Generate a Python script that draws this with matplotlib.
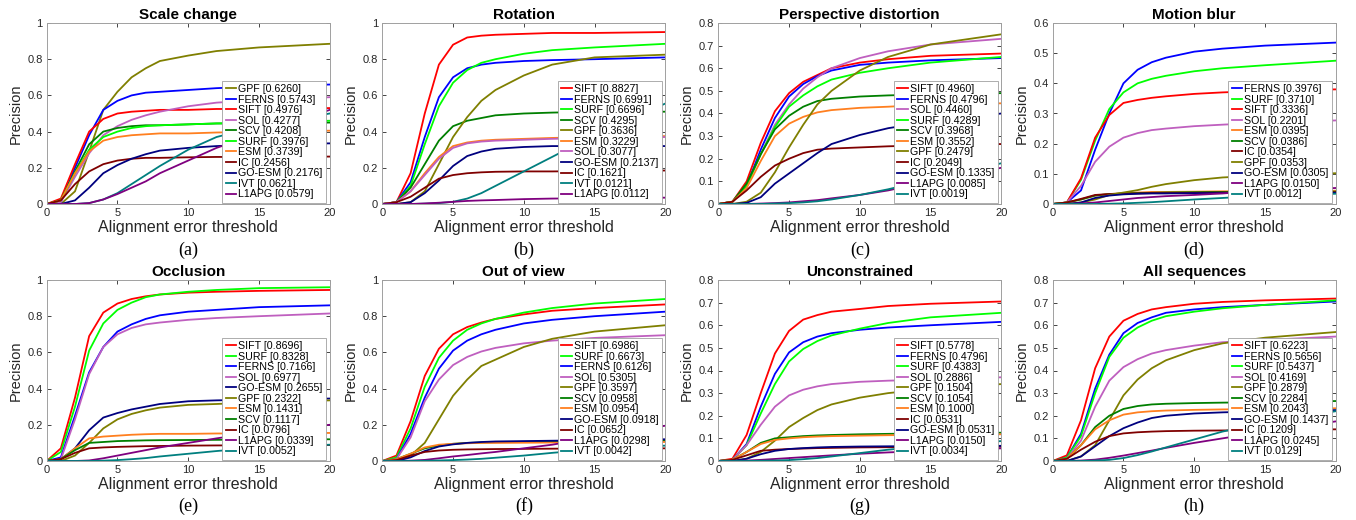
import numpy as np
import matplotlib
matplotlib.use("Agg")
import matplotlib.pyplot as plt
from matplotlib.ticker import FormatStrFormatter

plt.rcParams['font.family'] = ['Liberation Sans', 'DejaVu Sans']

# alignment error thresholds where precision was read
thresholds = [0, 1, 2, 3, 4, 5, 6, 7, 8, 10, 12, 15, 20]

colors = {
    "SIFT": "#ff0000", "FERNS": "#0000ff", "SURF": "#00ff00", "SOL": "#bf5fbf",
    "SCV": "#007f00", "ESM": "#ff7f1f", "GPF": "#7f7f00", "IC": "#7f0000",
    "GO-ESM": "#00007f", "IVT": "#007f7f", "L1APG": "#7f007f",
}

# method -> (score in legend, precision at each threshold); legend order
scale_change = {
    "GPF":    (0.6260, [0, 0.00, 0.07, 0.29, 0.52, 0.62, 0.70, 0.75, 0.79, 0.82, 0.845, 0.865, 0.885]),
    "FERNS":  (0.5743, [0, 0.01, 0.20, 0.38, 0.52, 0.57, 0.60, 0.615, 0.62, 0.63, 0.64, 0.65, 0.66]),
    "SIFT":   (0.4976, [0, 0.03, 0.22, 0.40, 0.47, 0.50, 0.51, 0.515, 0.52, 0.52, 0.525, 0.525, 0.53]),
    "SOL":    (0.4277, [0, 0.01, 0.15, 0.28, 0.38, 0.43, 0.465, 0.49, 0.51, 0.54, 0.56, 0.575, 0.59]),
    "SCV":    (0.4208, [0, 0.02, 0.18, 0.33, 0.40, 0.42, 0.43, 0.435, 0.435, 0.44, 0.445, 0.445, 0.45]),
    "SURF":   (0.3976, [0, 0.02, 0.17, 0.30, 0.37, 0.40, 0.42, 0.43, 0.435, 0.44, 0.445, 0.45, 0.46]),
    "ESM":    (0.3739, [0, 0.02, 0.17, 0.29, 0.35, 0.37, 0.38, 0.385, 0.39, 0.39, 0.395, 0.40, 0.405]),
    "IC":     (0.2456, [0, 0.02, 0.11, 0.18, 0.22, 0.24, 0.25, 0.255, 0.255, 0.258, 0.26, 0.26, 0.262]),
    "GO-ESM": (0.2176, [0, 0.00, 0.02, 0.09, 0.17, 0.215, 0.25, 0.275, 0.295, 0.31, 0.32, 0.33, 0.335]),
    "IVT":    (0.0621, [0, 0.00, 0.00, 0.005, 0.025, 0.06, 0.11, 0.16, 0.21, 0.30, 0.37, 0.43, 0.50]),
    "L1APG":  (0.0579, [0, 0.00, 0.00, 0.005, 0.025, 0.055, 0.09, 0.125, 0.17, 0.24, 0.31, 0.39, 0.52]),
}

rotation = {
    "SIFT":   (0.8827, [0, 0.01, 0.17, 0.50, 0.77, 0.88, 0.92, 0.93, 0.935, 0.94, 0.945, 0.945, 0.95]),
    "FERNS":  (0.6991, [0, 0.01, 0.12, 0.37, 0.59, 0.70, 0.75, 0.77, 0.78, 0.79, 0.795, 0.80, 0.81]),
    "SURF":   (0.6696, [0, 0.01, 0.10, 0.33, 0.54, 0.67, 0.74, 0.78, 0.80, 0.83, 0.85, 0.865, 0.885]),
    "SCV":    (0.4295, [0, 0.01, 0.09, 0.22, 0.35, 0.43, 0.46, 0.475, 0.49, 0.50, 0.505, 0.51, 0.51]),
    "GPF":    (0.3636, [0, 0.00, 0.01, 0.07, 0.22, 0.37, 0.48, 0.57, 0.63, 0.71, 0.77, 0.81, 0.825]),
    "ESM":    (0.3229, [0, 0.01, 0.07, 0.17, 0.26, 0.32, 0.34, 0.35, 0.355, 0.36, 0.365, 0.37, 0.375]),
    "SOL":    (0.3077, [0, 0.01, 0.07, 0.16, 0.25, 0.31, 0.335, 0.345, 0.35, 0.355, 0.36, 0.365, 0.37]),
    "GO-ESM": (0.2137, [0, 0.00, 0.01, 0.06, 0.13, 0.21, 0.265, 0.29, 0.305, 0.315, 0.32, 0.32, 0.32]),
    "IC":     (0.1621, [0, 0.01, 0.04, 0.09, 0.14, 0.16, 0.17, 0.175, 0.178, 0.18, 0.18, 0.182, 0.185]),
    "IVT":    (0.0121, [0, 0.00, 0.00, 0.002, 0.005, 0.012, 0.03, 0.06, 0.10, 0.18, 0.26, 0.38, 0.555]),
    "L1APG":  (0.0112, [0, 0.00, 0.00, 0.003, 0.007, 0.012, 0.017, 0.02, 0.022, 0.027, 0.03, 0.032, 0.035]),
}

perspective = {
    "SIFT":   (0.4960, [0, 0.01, 0.10, 0.27, 0.41, 0.49, 0.54, 0.57, 0.60, 0.625, 0.64, 0.655, 0.665]),
    "FERNS":  (0.4796, [0, 0.01, 0.08, 0.24, 0.38, 0.475, 0.53, 0.565, 0.59, 0.615, 0.625, 0.635, 0.645]),
    "SOL":    (0.4460, [0, 0.01, 0.08, 0.22, 0.35, 0.44, 0.51, 0.56, 0.60, 0.645, 0.675, 0.705, 0.73]),
    "SURF":   (0.4289, [0, 0.01, 0.08, 0.22, 0.34, 0.43, 0.48, 0.52, 0.55, 0.58, 0.60, 0.625, 0.65]),
    "SCV":    (0.3968, [0, 0.01, 0.09, 0.22, 0.33, 0.39, 0.43, 0.455, 0.465, 0.475, 0.48, 0.485, 0.49]),
    "ESM":    (0.3552, [0, 0.01, 0.07, 0.19, 0.30, 0.355, 0.385, 0.405, 0.415, 0.425, 0.43, 0.44, 0.445]),
    "GPF":    (0.2479, [0, 0.00, 0.01, 0.05, 0.14, 0.25, 0.35, 0.44, 0.50, 0.59, 0.65, 0.705, 0.75]),
    "IC":     (0.2049, [0, 0.01, 0.06, 0.12, 0.17, 0.20, 0.225, 0.24, 0.245, 0.25, 0.255, 0.26, 0.265]),
    "GO-ESM": (0.1335, [0, 0.00, 0.005, 0.03, 0.09, 0.135, 0.18, 0.225, 0.265, 0.305, 0.335, 0.365, 0.40]),
    "L1APG":  (0.0085, [0, 0.00, 0.00, 0.002, 0.004, 0.007, 0.012, 0.017, 0.025, 0.04, 0.06, 0.10, 0.16]),
    "IVT":    (0.0019, [0, 0.00, 0.00, 0.00, 0.002, 0.004, 0.007, 0.012, 0.02, 0.04, 0.065, 0.11, 0.18]),
}

motion_blur = {
    "FERNS":  (0.3976, [0, 0.005, 0.045, 0.18, 0.30, 0.40, 0.445, 0.47, 0.485, 0.505, 0.515, 0.525, 0.535]),
    "SURF":   (0.3710, [0, 0.005, 0.08, 0.21, 0.315, 0.37, 0.40, 0.415, 0.425, 0.44, 0.45, 0.46, 0.475]),
    "SIFT":   (0.3336, [0, 0.005, 0.085, 0.22, 0.295, 0.335, 0.345, 0.352, 0.357, 0.365, 0.37, 0.375, 0.38]),
    "SOL":    (0.2201, [0, 0.005, 0.06, 0.14, 0.19, 0.22, 0.235, 0.245, 0.25, 0.258, 0.263, 0.27, 0.277]),
    "ESM":    (0.0395, [0, 0.005, 0.015, 0.028, 0.033, 0.036, 0.038, 0.04, 0.04, 0.041, 0.042, 0.043, 0.044]),
    "SCV":    (0.0386, [0, 0.005, 0.015, 0.028, 0.033, 0.035, 0.036, 0.037, 0.038, 0.039, 0.04, 0.04, 0.041]),
    "IC":     (0.0354, [0, 0.005, 0.017, 0.03, 0.033, 0.034, 0.035, 0.036, 0.036, 0.037, 0.038, 0.038, 0.039]),
    "GPF":    (0.0353, [0, 0.00, 0.005, 0.015, 0.03, 0.038, 0.046, 0.057, 0.066, 0.079, 0.088, 0.095, 0.102]),
    "GO-ESM": (0.0305, [0, 0.00, 0.005, 0.02, 0.028, 0.032, 0.034, 0.035, 0.035, 0.036, 0.036, 0.037, 0.037]),
    "L1APG":  (0.0150, [0, 0.00, 0.002, 0.005, 0.01, 0.015, 0.02, 0.023, 0.026, 0.03, 0.035, 0.045, 0.053]),
    "IVT":    (0.0012, [0, 0.00, 0.00, 0.00, 0.001, 0.002, 0.004, 0.006, 0.009, 0.015, 0.02, 0.028, 0.034]),
}

occlusion = {
    "SIFT":   (0.8696, [0, 0.07, 0.35, 0.69, 0.82, 0.87, 0.895, 0.91, 0.92, 0.93, 0.935, 0.94, 0.945]),
    "SURF":   (0.8328, [0, 0.05, 0.30, 0.61, 0.76, 0.835, 0.875, 0.905, 0.92, 0.935, 0.945, 0.955, 0.96]),
    "FERNS":  (0.7166, [0, 0.02, 0.25, 0.49, 0.63, 0.715, 0.755, 0.785, 0.805, 0.825, 0.835, 0.85, 0.86]),
    "SOL":    (0.6977, [0, 0.01, 0.23, 0.48, 0.63, 0.70, 0.735, 0.755, 0.765, 0.78, 0.79, 0.80, 0.815]),
    "GO-ESM": (0.2655, [0, 0.01, 0.07, 0.17, 0.24, 0.265, 0.285, 0.30, 0.315, 0.33, 0.335, 0.34, 0.345]),
    "GPF":    (0.2322, [0, 0.00, 0.03, 0.10, 0.18, 0.23, 0.26, 0.28, 0.295, 0.31, 0.315, 0.325, 0.335]),
    "ESM":    (0.1431, [0, 0.01, 0.07, 0.125, 0.135, 0.14, 0.145, 0.148, 0.15, 0.15, 0.152, 0.153, 0.155]),
    "SCV":    (0.1117, [0, 0.01, 0.06, 0.10, 0.105, 0.11, 0.112, 0.114, 0.115, 0.116, 0.117, 0.118, 0.12]),
    "IC":     (0.0796, [0, 0.01, 0.045, 0.07, 0.075, 0.078, 0.08, 0.082, 0.083, 0.085, 0.086, 0.087, 0.088]),
    "L1APG":  (0.0339, [0, 0.00, 0.00, 0.003, 0.015, 0.03, 0.045, 0.06, 0.075, 0.10, 0.125, 0.16, 0.20]),
    "IVT":    (0.0052, [0, 0.00, 0.00, 0.00, 0.002, 0.005, 0.01, 0.016, 0.025, 0.04, 0.055, 0.075, 0.09]),
}

out_of_view = {
    "SIFT":   (0.6986, [0, 0.03, 0.22, 0.47, 0.62, 0.70, 0.74, 0.765, 0.785, 0.81, 0.83, 0.845, 0.865]),
    "SURF":   (0.6673, [0, 0.02, 0.18, 0.41, 0.57, 0.665, 0.725, 0.76, 0.785, 0.82, 0.845, 0.87, 0.895]),
    "FERNS":  (0.6126, [0, 0.01, 0.15, 0.35, 0.51, 0.61, 0.665, 0.70, 0.725, 0.76, 0.78, 0.80, 0.825]),
    "SOL":    (0.5305, [0, 0.01, 0.13, 0.33, 0.45, 0.53, 0.575, 0.605, 0.625, 0.65, 0.665, 0.68, 0.695]),
    "GPF":    (0.3597, [0, 0.00, 0.03, 0.10, 0.23, 0.36, 0.45, 0.525, 0.56, 0.63, 0.675, 0.715, 0.75]),
    "SCV":    (0.0958, [0, 0.01, 0.04, 0.07, 0.085, 0.095, 0.10, 0.102, 0.104, 0.106, 0.108, 0.11, 0.112]),
    "ESM":    (0.0954, [0, 0.01, 0.04, 0.075, 0.09, 0.095, 0.098, 0.10, 0.10, 0.101, 0.102, 0.103, 0.105]),
    "GO-ESM": (0.0918, [0, 0.00, 0.02, 0.055, 0.08, 0.092, 0.10, 0.105, 0.108, 0.11, 0.112, 0.115, 0.12]),
    "IC":     (0.0652, [0, 0.005, 0.03, 0.05, 0.058, 0.062, 0.064, 0.065, 0.066, 0.067, 0.068, 0.069, 0.07]),
    "L1APG":  (0.0298, [0, 0.00, 0.002, 0.006, 0.015, 0.025, 0.033, 0.042, 0.05, 0.07, 0.09, 0.13, 0.195]),
    "IVT":    (0.0042, [0, 0.00, 0.00, 0.001, 0.003, 0.005, 0.008, 0.012, 0.018, 0.03, 0.045, 0.065, 0.085]),
}

unconstrained = {
    "SIFT":   (0.5778, [0, 0.01, 0.115, 0.30, 0.475, 0.575, 0.625, 0.645, 0.66, 0.672, 0.685, 0.695, 0.705]),
    "FERNS":  (0.4796, [0, 0.005, 0.075, 0.24, 0.385, 0.48, 0.525, 0.55, 0.565, 0.58, 0.59, 0.60, 0.615]),
    "SURF":   (0.4383, [0, 0.005, 0.07, 0.21, 0.34, 0.44, 0.495, 0.53, 0.555, 0.585, 0.61, 0.635, 0.655]),
    "SOL":    (0.2886, [0, 0.005, 0.07, 0.16, 0.24, 0.29, 0.315, 0.33, 0.34, 0.35, 0.355, 0.36, 0.37]),
    "GPF":    (0.1504, [0, 0.00, 0.01, 0.04, 0.09, 0.15, 0.19, 0.225, 0.25, 0.28, 0.30, 0.32, 0.34]),
    "SCV":    (0.1054, [0, 0.005, 0.04, 0.08, 0.10, 0.105, 0.11, 0.113, 0.115, 0.118, 0.12, 0.122, 0.125]),
    "ESM":    (0.1000, [0, 0.005, 0.04, 0.075, 0.093, 0.10, 0.105, 0.108, 0.11, 0.112, 0.114, 0.116, 0.118]),
    "IC":     (0.0531, [0, 0.005, 0.025, 0.045, 0.05, 0.053, 0.055, 0.057, 0.058, 0.06, 0.061, 0.062, 0.063]),
    "GO-ESM": (0.0531, [0, 0.00, 0.01, 0.03, 0.045, 0.053, 0.057, 0.06, 0.062, 0.064, 0.065, 0.066, 0.067]),
    "L1APG":  (0.0150, [0, 0.00, 0.002, 0.005, 0.009, 0.013, 0.017, 0.021, 0.025, 0.032, 0.038, 0.045, 0.056]),
    "IVT":    (0.0034, [0, 0.00, 0.00, 0.001, 0.002, 0.004, 0.008, 0.013, 0.02, 0.035, 0.05, 0.068, 0.088]),
}

all_sequences = {
    "SIFT":   (0.6223, [0, 0.025, 0.18, 0.41, 0.55, 0.62, 0.65, 0.67, 0.68, 0.695, 0.703, 0.71, 0.718]),
    "FERNS":  (0.5656, [0, 0.015, 0.12, 0.32, 0.47, 0.565, 0.61, 0.635, 0.655, 0.67, 0.68, 0.69, 0.705]),
    "SURF":   (0.5437, [0, 0.015, 0.11, 0.30, 0.46, 0.545, 0.59, 0.62, 0.64, 0.66, 0.675, 0.69, 0.71]),
    "SOL":    (0.4169, [0, 0.01, 0.09, 0.24, 0.355, 0.415, 0.45, 0.475, 0.49, 0.51, 0.525, 0.535, 0.55]),
    "GPF":    (0.2879, [0, 0.00, 0.02, 0.07, 0.18, 0.29, 0.36, 0.41, 0.445, 0.49, 0.52, 0.545, 0.57]),
    "SCV":    (0.2284, [0, 0.01, 0.07, 0.15, 0.20, 0.23, 0.243, 0.25, 0.253, 0.256, 0.258, 0.26, 0.265]),
    "ESM":    (0.2043, [0, 0.01, 0.07, 0.14, 0.18, 0.205, 0.215, 0.22, 0.223, 0.226, 0.228, 0.23, 0.233]),
    "GO-ESM": (0.1437, [0, 0.00, 0.02, 0.065, 0.11, 0.145, 0.17, 0.19, 0.20, 0.21, 0.215, 0.22, 0.225]),
    "IC":     (0.1209, [0, 0.01, 0.05, 0.085, 0.11, 0.122, 0.127, 0.13, 0.132, 0.134, 0.135, 0.137, 0.14]),
    "L1APG":  (0.0245, [0, 0.00, 0.002, 0.006, 0.014, 0.024, 0.035, 0.046, 0.058, 0.08, 0.10, 0.13, 0.175]),
    "IVT":    (0.0129, [0, 0.00, 0.00, 0.002, 0.005, 0.013, 0.026, 0.042, 0.06, 0.095, 0.13, 0.17, 0.22]),
}

titles = ["Scale change", "Rotation", "Perspective distortion", "Motion blur",
          "Occlusion", "Out of view", "Unconstrained", "All sequences"]
letters = ["(a)", "(b)", "(c)", "(d)", "(e)", "(f)", "(g)", "(h)"]
datasets = [scale_change, rotation, perspective, motion_blur,
            occlusion, out_of_view, unconstrained, all_sequences]
ymaxes = [1.0, 1.0, 0.8, 0.6, 1.0, 1.0, 0.8, 0.8]
ysteps = [0.2, 0.2, 0.1, 0.1, 0.2, 0.2, 0.1, 0.1]

W, H = 1356, 520
fig = plt.figure(figsize=(W / 100, H / 100), dpi=100)

col_left = [46.7, 382.3, 718.3, 1052.7]
row_top = [23, 280]
ax_w, ax_h = 283, 181
letter_y = [250, 506]
txt = "#262626"

for i, (title, letter, data, ymax, ystep) in enumerate(zip(titles, letters, datasets, ymaxes, ysteps)):
    r, c = divmod(i, 4)
    left, top = col_left[c], row_top[r]
    ax = fig.add_axes([left / W, 1 - (top + ax_h) / H, ax_w / W, ax_h / H])
    for name, (score, prec) in data.items():
        ax.plot(thresholds, prec, color=colors[name], lw=1.3,
                label=f"{name} [{score:.4f}]")
    ax.set_xlim(0, 20)
    ax.set_ylim(0, ymax)
    ax.set_xticks([0, 5, 10, 15, 20])
    ax.set_yticks(np.round(np.arange(0, ymax + 1e-9, ystep), 2))
    ax.yaxis.set_major_formatter(FormatStrFormatter('%g'))
    ax.tick_params(direction='in', length=3, width=0.6, labelsize=8,
                   colors=txt, top=True, right=True, pad=3)
    for sp in ax.spines.values():
        sp.set_color('#a0a0a0')
        sp.set_linewidth(0.7)
    ax.set_title(title, fontweight='bold', fontsize=11, color='black', pad=3)
    ax.set_xlabel("Alignment error threshold", fontsize=11.5, color=txt, labelpad=1)
    ax.set_ylabel("Precision", fontsize=10.5, color=txt)
    ax.yaxis.set_label_coords(-0.085, 0.5)
    leg = ax.legend(loc='lower right', bbox_to_anchor=(0.987, 0.008), borderaxespad=0,
                    fontsize=7.7, frameon=True, fancybox=False, framealpha=1,
                    edgecolor='#a0a0a0', handlelength=1.0, handletextpad=0.2,
                    labelspacing=0.05, borderpad=0.3)
    leg.get_frame().set_linewidth(0.6)
    fig.text((left + ax_w / 2) / W, 1 - letter_y[r] / H, letter,
             family='Liberation Serif', fontsize=13, ha='center', va='center')

fig.savefig("out.png", dpi=100)
